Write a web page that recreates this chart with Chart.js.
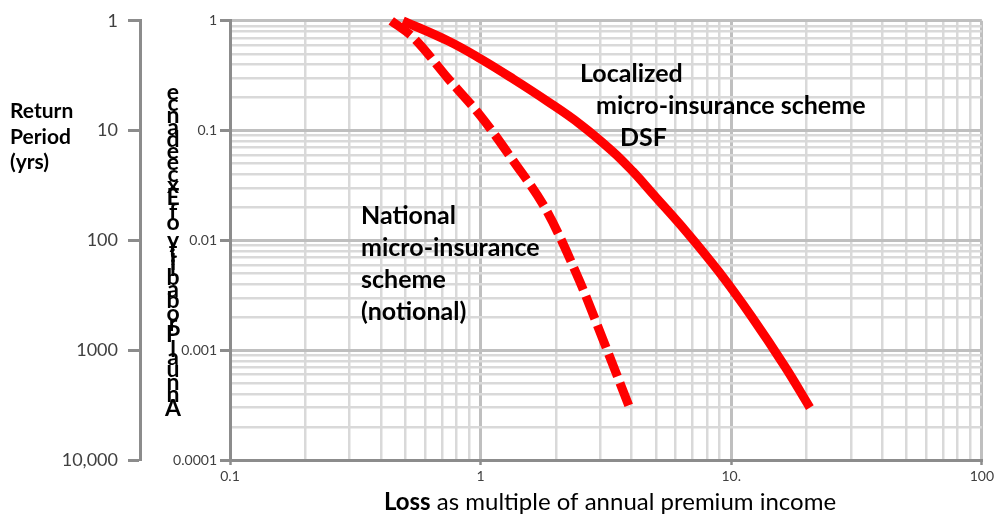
<!DOCTYPE html>
<html lang="en">
<head>
<meta charset="UTF-8">
<title>Loss exceedance curves</title>
<script src="https://cdn.jsdelivr.net/npm/chart.js"></script>
<style>
  html, body { margin: 0; padding: 0; background: #fff; }
  #wrap { width: 997px; height: 519px; }
</style>
</head>
<body>
<div id="wrap"><canvas id="grafico"></canvas></div>
<script>
// eixos (decadas + rotulos)
const xTickValues = [0.1, 1, 10, 100];
const xTickLabels = ['0.1', '1', '10.', '100'];
const probTickValues = [0.0001, 0.001, 0.01, 0.1, 1];
const probTickLabels = ['0.0001', '0.001', '0.01', '0.1', '1'];
const periodTickValues = [1, 10, 100, 1000, 10000];
const periodTickLabels = ['1', '10', '100', '1000', '10,000'];

// curvas
const localLoss = [0.49, 0.74, 1, 1.35, 1.84, 2.49, 3.36, 4.04, 4.84, 6.6, 8.92, 12.06, 16.4, 20.6];
const localProb = [1, 0.657, 0.45, 0.295, 0.186, 0.1147, 0.0648, 0.0427, 0.0269, 0.0121, 0.0052, 0.00202, 0.000706, 0.0003];
const nationalLoss = [0.44, 0.54, 0.74, 1, 1.35, 1.84, 2.49, 3.07, 3.93];
const nationalProb = [1, 0.7, 0.3, 0.136, 0.053, 0.0184, 0.0042, 0.00127, 0.0003];

const FONTE = 'Lato, "Open Sans", sans-serif';

function isDecade(v) {
    const l = Math.log10(v);
    return Math.abs(l - Math.round(l)) < 1e-9;
}

// 1..9 em cada decada, para as linhas de grade
function logTicks(decades) {
    const out = [];
    for (let i = 0; i < decades.length - 1; i++) {
        for (let k = 1; k <= 9; k++) {
            out.push({ value: Number((k * decades[i]).toPrecision(6)) });
        }
    }
    out.push({ value: decades[decades.length - 1] });
    return out;
}

function labelFor(values, labels) {
    return function (value) {
        for (let i = 0; i < values.length; i++) {
            if (Math.abs(Math.log10(value) - Math.log10(values[i])) < 1e-9) return labels[i];
        }
        return '';
    };
}

const gridColor = ctx => (ctx.tick && isDecade(ctx.tick.value)) ? '#bfbfbf' : '#d9d9d9';
const gridWidth = ctx => (ctx.tick && isDecade(ctx.tick.value)) ? 3 : 2.5;
const tickColor = ctx => (ctx.tick && isDecade(ctx.tick.value)) ? '#8c8c8c' : 'rgba(0,0,0,0)';

const textos = {
    id: 'textos',
    afterDraw(chart) {
        const ctx = chart.ctx;
        ctx.save();
        ctx.fillStyle = '#000';
        ctx.textAlign = 'left';
        ctx.textBaseline = 'alphabetic';

        // Return Period (yrs)
        ctx.font = 'bold 21px ' + FONTE;
        ctx.fillText('Return', 10, 118);
        ctx.fillText('Period', 10, 144);
        ctx.fillText('(yrs)', 10, 169);

        // titulo vertical com letras em pe
        const titulo = 'Annual Probability of Exceedance';
        ctx.font = 'bold 23px ' + FONTE;
        const larguras = [...titulo].map(c => ctx.measureText(c).width);
        const total = larguras.reduce((a, b) => a + b, 0);
        const escala = 329 / total;
        ctx.textAlign = 'center';
        ctx.textBaseline = 'middle';
        let acc = 0;
        [...titulo].forEach((c, i) => {
            const meio = 416 - (acc + larguras[i] / 2) * escala;
            ctx.fillText(c, 173, meio);
            acc += larguras[i];
        });

        // anotacoes
        ctx.textAlign = 'left';
        ctx.textBaseline = 'alphabetic';
        ctx.font = 'bold 25px ' + FONTE;
        ctx.fillText('Localized', 580, 82);
        ctx.fillText('micro-insurance scheme', 596, 114);
        ctx.fillText('DSF', 620, 146);
        ctx.fillText('National', 361, 224);
        ctx.fillText('micro-insurance', 361, 256);
        ctx.fillText('scheme', 361, 288);
        ctx.fillText('(notional)', 361, 320);

        // titulo do eixo x
        const a = 'Loss', b = ' as multiple of annual premium income';
        ctx.font = 'bold 24px ' + FONTE;
        const wa = ctx.measureText(a).width;
        ctx.font = '24px ' + FONTE;
        const wb = ctx.measureText(b).width;
        const x0 = 610 - (wa + wb) / 2;
        ctx.font = 'bold 24px ' + FONTE;
        ctx.fillText(a, x0, 510);
        ctx.font = '24px ' + FONTE;
        ctx.fillText(b, x0 + wa, 510);
        ctx.restore();
    }
};

const ctx = document.getElementById('grafico').getContext('2d');
new Chart(ctx, {
    type: 'line',
    data: {
        datasets: [{
            label: 'Localized micro-insurance scheme DSF',
            data: localLoss.map((v, i) => ({ x: v, y: localProb[i] })),
            borderColor: '#ff0000',
            borderWidth: 9,
            borderCapStyle: 'butt',
            pointRadius: 0,
            tension: 0.4,
            clip: false
        }, {
            label: 'National micro-insurance scheme (notional)',
            data: nationalLoss.map((v, i) => ({ x: v, y: nationalProb[i] })),
            borderColor: '#ff0000',
            borderWidth: 9,
            borderDash: [24, 7],
            borderCapStyle: 'butt',
            pointRadius: 0,
            cubicInterpolationMode: 'monotone',
            clip: false
        }]
    },
    options: {
        responsive: true,
        maintainAspectRatio: false,
        animation: false,
        layout: { padding: { top: 20, right: 11, left: 0, bottom: 0 } },
        plugins: {
            legend: { display: false },
            tooltip: { enabled: false }
        },
        scales: {
            x: {
                type: 'logarithmic',
                min: 0.1,
                max: 100,
                afterBuildTicks: s => { s.ticks = logTicks(xTickValues); },
                afterFit: s => { s.height = 59; },
                ticks: {
                    autoSkip: false,
                    maxRotation: 0,
                    minRotation: 0,
                    padding: 3,
                    color: '#404040',
                    font: { family: FONTE, size: 14 },
                    callback: labelFor(xTickValues, xTickLabels)
                },
                grid: {
                    color: gridColor,
                    lineWidth: gridWidth,
                    tickLength: 5,
                    tickColor: tickColor,
                    tickWidth: 2.5
                },
                border: { color: '#8c8c8c', width: 3 }
            },
            y: {
                type: 'logarithmic',
                position: 'left',
                weight: 0,
                min: 0.0001,
                max: 1,
                afterBuildTicks: s => { s.ticks = logTicks(probTickValues); },
                afterFit: s => { s.width = 90; },
                ticks: {
                    autoSkip: false,
                    padding: 3,
                    color: '#404040',
                    font: { family: FONTE, size: 14 },
                    callback: labelFor(probTickValues, probTickLabels)
                },
                grid: {
                    color: gridColor,
                    lineWidth: gridWidth,
                    tickLength: 10,
                    tickColor: tickColor,
                    tickWidth: 3
                },
                border: { color: '#8c8c8c', width: 3 }
            },
            y2: {
                type: 'logarithmic',
                position: 'left',
                weight: 1,
                reverse: true,
                min: 1,
                max: 10000,
                afterBuildTicks: s => { s.ticks = periodTickValues.map(v => ({ value: v })); },
                afterFit: s => { s.width = 140; },
                ticks: {
                    autoSkip: false,
                    padding: 10,
                    color: '#404040',
                    font: { family: FONTE, size: 18 },
                    callback: labelFor(periodTickValues, periodTickLabels)
                },
                grid: {
                    drawOnChartArea: false,
                    tickLength: 12,
                    tickColor: '#8c8c8c',
                    tickWidth: 3
                },
                border: { color: '#8c8c8c', width: 3 }
            }
        }
    },
    plugins: [textos]
});
</script>
</body>
</html>
